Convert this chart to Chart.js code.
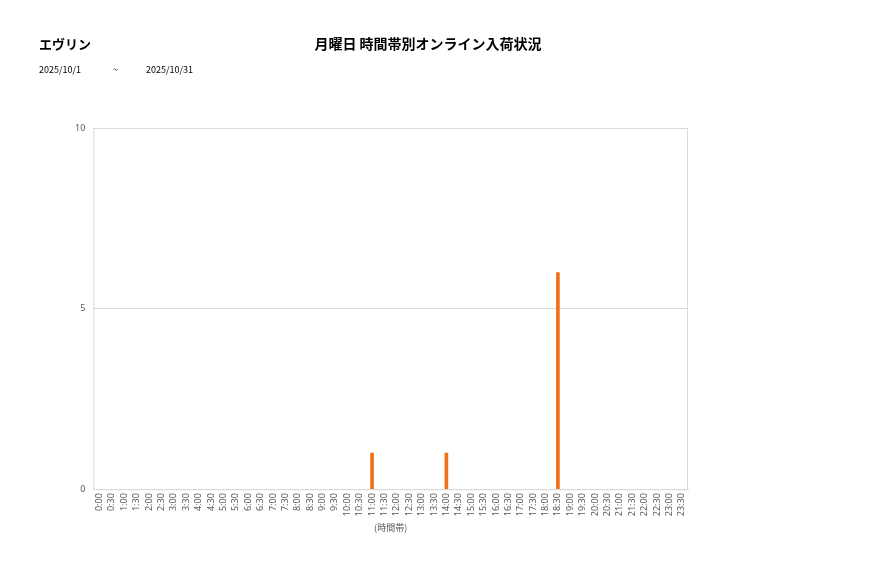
<html>
<head>
<meta charset="utf-8">
<script src="https://cdn.jsdelivr.net/npm/chart.js"></script>
<style>
  body { margin: 0; background: #fff; font-family: "Noto Sans CJK JP", "Noto Sans", sans-serif; }
  #wrap { position: relative; width: 877px; height: 578px; }
  .txt { position: absolute; color: #000; white-space: nowrap; }
</style>
</head>
<body>
<div id="wrap">
  <canvas id="myChart" width="877" height="578"></canvas>
  <div class="txt" style="left:39px; top:34px; font-size:13px; font-weight:bold;">エヴリン</div>
  <div class="txt" style="left:0; width:856px; top:33px; font-size:14px; font-weight:bold; text-align:center;">月曜日 時間帯別オンライン入荷状況</div>
  <div class="txt" style="left:39px; top:63px; font-size:9px;">2025/10/1</div>
  <div class="txt" style="left:113px; top:63px; font-size:9px;">~</div>
  <div class="txt" style="left:146px; top:63px; font-size:9px;">2025/10/31</div>
</div>
<script>
var timeLabels = ['0:00','0:30','1:00','1:30','2:00','2:30','3:00','3:30','4:00','4:30','5:00','5:30',
  '6:00','6:30','7:00','7:30','8:00','8:30','9:00','9:30','10:00','10:30','11:00','11:30',
  '12:00','12:30','13:00','13:30','14:00','14:30','15:00','15:30','16:00','16:30','17:00','17:30',
  '18:00','18:30','19:00','19:30','20:00','20:30','21:00','21:30','22:00','22:30','23:00','23:30'];
var arrivals = [0,0,0,0,0,0,0,0,0,0,0,0,
  0,0,0,0,0,0,0,0,0,0,1,0,
  0,0,0,0,1,0,0,0,0,0,0,0,
  0,6,0,0,0,0,0,0,0,0,0,0];
var yTicks = [0, 5, 10];

// light gray box round the plot area
var boxPlugin = {
  id: 'box',
  afterDraw: function(chart){
    var a = chart.chartArea, c = chart.ctx;
    c.save();
    c.strokeStyle = '#d9d9d9';
    c.lineWidth = 1;
    c.strokeRect(a.left + 0.5, a.top + 0.5, a.right - a.left - 1, a.bottom - a.top);
    c.restore();
  }
};

var dataObj = {
  type: 'bar',
  data: {
    labels: timeLabels,
    datasets: [{
      data: arrivals,
      backgroundColor: function(c){ return c.raw ? '#f07018' : 'rgba(0,0,0,0)'; },
      barThickness: 3
    }]
  },
  options: {
    responsive: false,
    animation: false,
    layout: { padding: { left: 67, top: 128, right: 189, bottom: 43 } },
    plugins: { legend: { display: false }, tooltip: { enabled: false } },
    scales: {
      x: {
        grid: { display: false, drawTicks: false },
        border: { color: '#d9d9d9' },
        ticks: {
          autoSkip: false, maxRotation: 90, minRotation: 90,
          color: '#595959', font: { size: 9, family: 'Noto Sans' }, padding: 4
        },
        title: { display: true, text: '(時間帯)', color: '#595959', font: { size: 9, family: 'Noto Sans CJK JP' }, padding: 2 }
      },
      y: {
        min: 0, max: 10,
        afterBuildTicks: function(axis){ axis.ticks = yTicks.map(function(v){ return { value: v }; }); },
        grid: { color: '#d9d9d9', drawTicks: false },
        border: { display: false },
        ticks: { color: '#595959', font: { size: 9, family: 'Noto Sans' }, padding: 8 }
      }
    }
  },
  plugins: [boxPlugin]
};
var ctx = document.getElementById('myChart').getContext('2d');
window.myBar = new Chart(ctx, dataObj);
</script>
</body>
</html>
